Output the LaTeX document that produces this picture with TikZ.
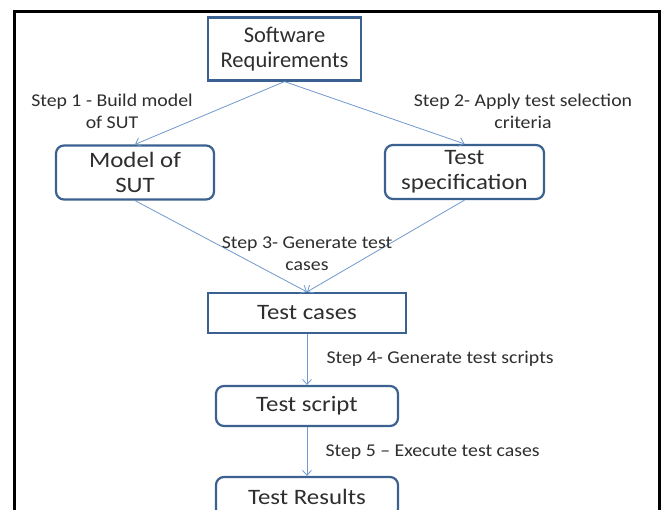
\documentclass[tikz,border=0pt]{standalone}
\usepackage{fontspec}
\setmainfont{Carlito}
\newfontfamily\wideface[FakeStretch=1.13]{Carlito}
\newfontfamily\stepface[FakeStretch=1.1]{Carlito}
\usetikzlibrary{arrows.meta, positioning}
\definecolor{boxline}{HTML}{3B6190}
\definecolor{flow}{HTML}{7099CE}
\definecolor{ink}{HTML}{2E2E2E}

\begin{document}
\begin{tikzpicture}[
    x=1pt, y=-1pt,
    >={Straight Barb[length=5pt, width=9pt]},
    box/.style={draw=boxline, line width=2.2pt, minimum width=158pt, minimum height=54pt,
                inner sep=1pt, align=center, text=ink, font=\wideface\fontsize{22}{25}\selectfont},
    rbox/.style={box, rounded corners=8pt},
    arrow/.style={->, line width=0.8pt, color=flow},
    label/.style={text=ink, align=center, font=\stepface\fontsize{18}{22}\selectfont},
]
    \clip (0,0) rectangle (664,510);
    \fill[white] (0,0) rectangle (664,510);

    % Frame
    \draw[line width=3pt] (14.5,530) -- (14.5,11.5) -- (659.5,11.5) -- (659.5,530);

    \node[box, minimum width=153pt, minimum height=63pt, font=\rmfamily\fontsize{22.5}{25}\selectfont]
        (reqs) at (284.5,49) {Software\\Requirements};
    \node[rbox] (model) at (135,172.5) {Model of\\SUT};
    \node[rbox, minimum width=159pt] (spec) at (464.5,172) {Test\\specification};
    \node[box, minimum width=198pt, minimum height=40pt] (cases) at (307,313) {Test cases};
    \node[rbox, minimum width=182pt, minimum height=40pt] (script) at (307,406) {Test script};
    \node[rbox, minimum width=182pt, minimum height=40pt] (results) at (307,497) {Test Results};

    \draw[arrow] (reqs.south) -- (model.north);
    \draw[arrow] (reqs.south) -- (spec.north);
    \draw[arrow] (model.south) -- (cases.north);
    \draw[arrow] (spec.south) -- (cases.north);
    \draw[arrow] (cases) -- (script);
    \draw[arrow] (script) -- (results);

    % Labels
    \node[label] (step1) at (112,111) {Step 1 - Build model\\of SUT};
    \node[label] (step2) at (523,111) {Step 2- Apply test selection\\criteria};
    \node[label] (step3) at (307,253.5) {Step 3- Generate test\\cases};
    \node[label, anchor=west] (step4) at (323,359) {Step 4- Generate test scripts};
    \node[label, anchor=west] (step5) at (322,452) {Step 5 – Execute test cases};
\end{tikzpicture}
\end{document}
